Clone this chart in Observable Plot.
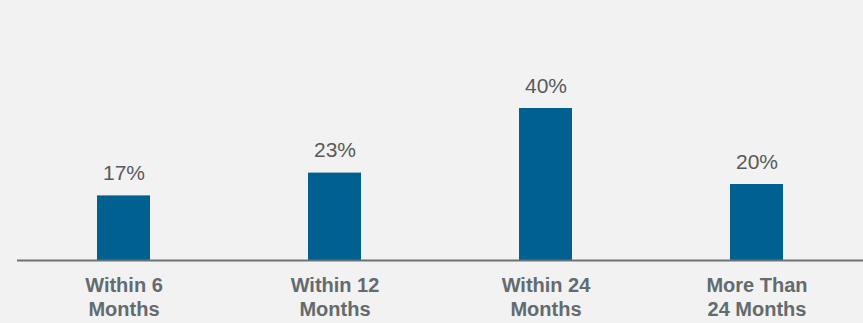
<!DOCTYPE html>
<html>
<head>
<meta charset="utf-8">
<script src="https://cdn.jsdelivr.net/npm/d3@7"></script>
<script src="https://cdn.jsdelivr.net/npm/@observablehq/plot@0.6"></script>
<style>
  html, body { margin: 0; padding: 0; background: #f2f2f2; }
  #chart svg { display: block; background: #f2f2f2; }
</style>
</head>
<body>
<div id="chart"></div>
<script>
const categories = ["Within 6\nMonths", "Within 12\nMonths", "Within 24\nMonths", "More Than\n24 Months"];
const values = [17, 23, 40, 20];
const valueLabels = ["17%", "23%", "40%", "20%"];

const data = categories.map((c, i) => ({category: c, value: values[i], label: valueLabels[i]}));

const chart = Plot.plot({
  width: 863,
  height: 323,
  marginLeft: 17,
  marginRight: 0,
  marginTop: 32,
  marginBottom: 63,
  style: {background: "#f2f2f2", fontFamily: "Liberation Sans, Arial, sans-serif"},
  x: {domain: categories, paddingInner: 0.75, paddingOuter: 0.375, label: null},
  y: {domain: [0, 60], axis: null},
  marks: [
    Plot.barY(data, {x: "category", y: "value", fill: "#00608f"}),
    Plot.ruleY([0], {stroke: "#6b7274", strokeWidth: 2}),
    Plot.text(data, {x: "category", y: "value", text: "label", dy: -16, lineAnchor: "bottom", fontSize: 21, fill: "#595959"}),
    Plot.axisX({tickSize: 0, tickPadding: 14, fontSize: 20, fontWeight: "bold", fill: "#636b6e", lineHeight: 1.2, label: null})
  ]
});
document.getElementById("chart").appendChild(chart);
</script>
</body>
</html>
